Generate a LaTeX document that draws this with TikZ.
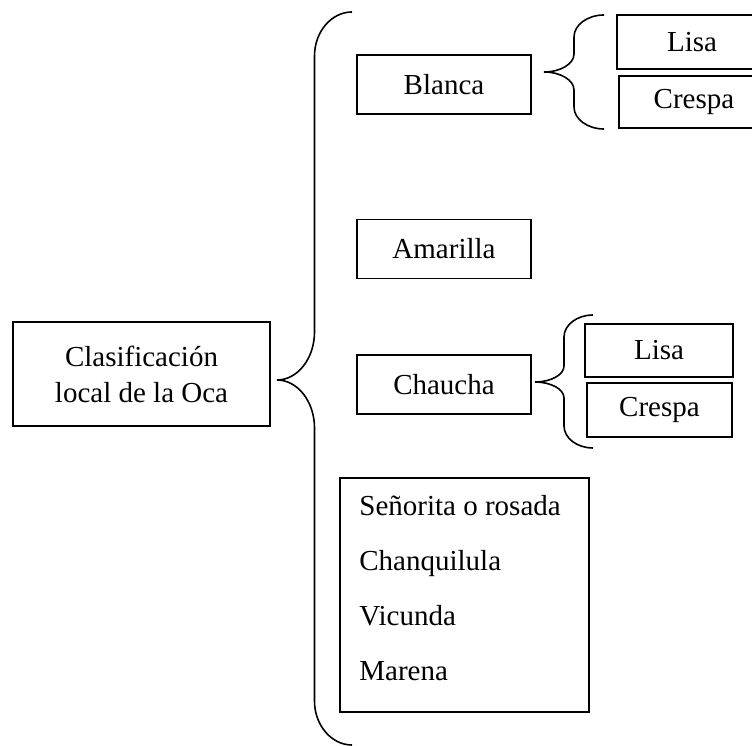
\documentclass[tikz,border=0pt]{standalone}
\usepackage{fontspec}
\setmainfont{Liberation Serif}
\usetikzlibrary{calc}

% curly brace: #1 top end, #2 tip, #3 bottom end, #4 end radius, #5 tip radius
\newcommand{\llave}[5]{%
  \draw[llave] let \p1=(#1), \p2=(#2), \p3=(#3), \n1={(\x1+\x2)/2} in
    (\p1) .. controls +({-0.55*(\x1-\n1)},0) and +(0,{0.55*#4}) .. (\n1,{\y1-#4})
    -- (\n1,{\y2+#5})
    .. controls +(0,{-0.55*#5}) and +({0.55*(\n1-\x2)},0) .. (\p2)
    .. controls +({0.55*(\n1-\x2)},0) and +(0,{0.55*#5}) .. (\n1,{\y2-#5})
    -- (\n1,{\y3+#4})
    .. controls +(0,{-0.55*#4}) and +({-0.55*(\x3-\n1)},0) .. (\p3);}

\begin{document}
\begin{tikzpicture}[x=1pt, y=1pt,
    caja/.style={draw, line width=1.6pt, minimum width=174pt, minimum height=59pt,
                 inner sep=0pt, align=center, font=\fontsize{29}{36}\selectfont},
    lista/.style={inner sep=0pt, align=left, anchor=north west,
                  font=\fontsize{29}{55}\selectfont},
    llave/.style={line width=1.6pt}
  ]
  \clip (0,0) rectangle (752,746);

  % main box
  \node[caja, minimum width=257pt, minimum height=104pt] (clasif) at (141.5,372)
        {Clasificaci\'on\\local de la Oca};

  % middle column
  \foreach \nom/\y/\txt in {blanca/661.5/Blanca, amarilla/497/Amarilla,
                            chaucha/361.5/Chaucha}
    \node[caja] (\nom) at (444,\y) {\txt};

  % other varieties
  \node[caja, minimum width=249pt, minimum height=234pt] (otras) at (464.5,151) {};
  \node[lista] (otrasTxt) at ($(otras.north west)+(20,-18)$)
        {Se\~norita o rosada\\Chanquilula\\Vicunda\\Marena};

  % right column
  \node[caja, minimum width=150pt, minimum height=54pt] (lisaA) at (692,704) {Lisa};
  \node[caja, minimum width=150pt, minimum height=52pt] (crespaA) at (694,644) {Crespa};
  \node[caja, minimum width=148pt, minimum height=53pt] (lisaB) at (659,395.5) {Lisa};
  \node[caja, minimum width=145pt, minimum height=54pt] (crespaB) at (659.5,336) {Crespa};

  % braces
  \coordinate (gA) at (352,734);  \coordinate (tA) at (277,366);  \coordinate (bA) at (352,1);
  \coordinate (gB) at (604,731);  \coordinate (tB) at (544,674);  \coordinate (bB) at (604,617);
  \coordinate (gC) at (593,431);  \coordinate (tC) at (535,364);  \coordinate (bC) at (593,298);
  \llave{gA}{tA}{bA}{44}{48}
  \llave{gB}{tB}{bB}{22}{18}
  \llave{gC}{tC}{bC}{22}{16}
\end{tikzpicture}
\end{document}
